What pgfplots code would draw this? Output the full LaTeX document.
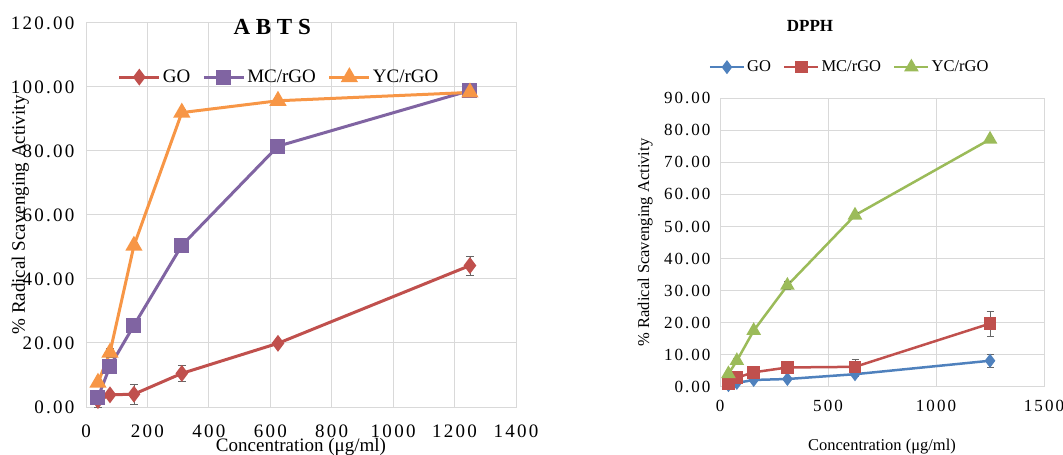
\documentclass[border=0pt]{standalone}
\usepackage{fontspec}
\setmainfont{Liberation Serif}
\newfontfamily\spaced[LetterSpace=12]{Liberation Serif}
\usepackage{pgfplots}
\pgfplotsset{compat=1.18}
\definecolor{cred}{HTML}{C0504D}
\definecolor{cpur}{HTML}{8064A2}
\definecolor{cora}{HTML}{F79646}
\definecolor{cblu}{HTML}{4F81BD}
\definecolor{cgre}{HTML}{9BBB59}
\definecolor{gridc}{HTML}{D9D9D9}
\begin{document}
\begin{tikzpicture}
\path[use as bounding box] (0pt,0pt) rectangle (1063pt,455pt);
\pgfplotsset{
  common/.style={
    scale only axis,
    axis line style={gridc, line width=1pt},
    grid=major,
    major grid style={gridc, line width=1pt},
    tick style={draw=none},
    /pgf/number format/assume math mode=true,
    /pgf/number format/set thousands separator={},
    every axis plot/.append style={error bars/error bar style={black!60, line width=0.8pt}},
  },
}
% ---------------- ABTS ----------------
\begin{axis}[common,
  at={(86pt,48pt)}, anchor=south west,
  width=430pt, height=384pt,
  xmin=0, xmax=1400, ymin=0, ymax=120,
  xtick={0,200,...,1400}, ytick={0,20,...,120},
  yticklabel={\pgfmathprintnumber[fixed,fixed zerofill,precision=2]{\tick}},
  ticklabel style={font=\fontsize{19}{19}\spaced},
  xticklabel style={yshift=-14pt},
  yticklabel style={xshift=-8pt},
  xlabel={Concentration (μg/ml)},
  ylabel={\% Radical Scavenging Activity},
  label style={font=\fontsize{19}{19}\selectfont},
  xlabel style={at={(axis description cs:0.5,-0.104)}, anchor=center},
  ylabel style={at={(axis description cs:-0.153,0.5)}, anchor=center, rotate=0},
  title={\textbf{A B T S}},
  title style={font=\fontsize{23}{23}\selectfont, at={(axis description cs:0.433,0.974)}, anchor=center},
  legend style={draw=none, fill=none, at={(axis description cs:0.449,0.859)}, anchor=center,
    font=\fontsize{19}{19}\selectfont, /tikz/every even column/.append style={column sep=10pt}},
  legend columns=-1,
  legend image code/.code={\draw[#1] (0pt,0pt) -- (40pt,0pt); \draw[#1, mark repeat=1] plot coordinates {(20pt,0pt)};},
]
\addplot[cred, line width=3pt, mark=diamond*, mark size=6pt, mark options={solid},
  error bars/.cd, y dir=both, y explicit, error mark options={rotate=90, mark size=4pt}]
  coordinates {(39,2.0)+-(0,2.0) (78,3.8)+-(0,0.6) (156,4.0)+-(0,3.0) (312,10.5)+-(0,2.5) (625,19.9)+-(0,0.6) (1250,44.2)+-(0,3.0)};
\addlegendentry{GO}
\addplot[cpur, line width=3pt, mark=square*, mark size=6pt,
  error bars/.cd, y dir=both, y explicit, error mark options={rotate=90, mark size=4pt}]
  coordinates {(39,3.0)+-(0,1.0) (78,12.7)+-(0,1.0) (156,25.5)+-(0,1.0) (312,50.5)+-(0,1.0) (625,81.5)+-(0,1.0) (1250,98.9)+-(0,0.6)};
\addlegendentry{MC/rGO}
\addplot[cora, line width=3pt, mark=triangle*, mark size=7pt,
  error bars/.cd, y dir=both, y explicit, error mark options={rotate=90, mark size=4pt}]
  coordinates {(39,7.6)+-(0,1.0) (78,17.0)+-(0,1.5) (156,50.4)+-(0,1.2) (312,92.0)+-(0,1.0) (625,95.7)+-(0,0.5) (1250,98.3)+-(0,0.5)};
\addlegendentry{YC/rGO}
\end{axis}
% ---------------- DPPH ----------------
\begin{axis}[common,
  at={(720pt,68.3pt)}, anchor=south west,
  width=324pt, height=288.4pt,
  xmin=0, xmax=1500, ymin=0, ymax=90,
  xtick={0,500,1000,1500}, ytick={0,10,...,90},
  yticklabel={\pgfmathprintnumber[fixed,fixed zerofill,precision=2]{\tick}},
  ticklabel style={font=\fontsize{17}{17}\spaced},
  xticklabel style={yshift=-10pt},
  yticklabel style={xshift=-6pt},
  xlabel={Concentration (μg/ml)},
  ylabel={\% Radical Scavenging Activity},
  label style={font=\fontsize{16.5}{16.5}\selectfont},
  xlabel style={at={(axis description cs:0.5,-0.206)}, anchor=center},
  ylabel style={at={(axis description cs:-0.231,0.5)}, anchor=center},
  title={\textbf{DPPH}},
  title style={font=\fontsize{17}{17}\selectfont, at={(axis description cs:0.278,1.23)}, anchor=center},
  legend style={draw=none, fill=none, at={(axis description cs:0.40,1.108)}, anchor=center,
    font=\fontsize{16.5}{16.5}\selectfont, /tikz/every even column/.append style={column sep=10pt}},
  legend columns=-1,
  legend image code/.code={\draw[#1] (0pt,0pt) -- (34pt,0pt); \draw[#1, mark repeat=1] plot coordinates {(17pt,0pt)};},
]
\addplot[cblu, line width=2.5pt, mark=diamond*, mark size=5pt,
  error bars/.cd, y dir=both, y explicit, error mark options={rotate=90, mark size=3.5pt}]
  coordinates {(39,0.5)+-(0,0.5) (78,1.2)+-(0,0.5) (156,2.1)+-(0,0.5) (312,2.4)+-(0,0.5) (625,3.9)+-(0,0.6) (1250,8.1)+-(0,2.0)};
\addlegendentry{GO}
\addplot[cred, line width=2.5pt, mark=square*, mark size=5pt,
  error bars/.cd, y dir=both, y explicit, error mark options={rotate=90, mark size=3.5pt}]
  coordinates {(39,0.8)+-(0,0.5) (78,2.8)+-(0,0.5) (156,4.5)+-(0,0.8) (312,6.0)+-(0,0.5) (625,6.2)+-(0,2.5) (1250,19.7)+-(0,3.8)};
\addlegendentry{MC/rGO}
\addplot[cgre, line width=2.5pt, mark=triangle*, mark size=6pt,
  error bars/.cd, y dir=both, y explicit, error mark options={rotate=90, mark size=3.5pt}]
  coordinates {(39,4.0)+-(0,0.8) (78,8.1)+-(0,0.8) (156,17.5)+-(0,0.8) (312,31.6)+-(0,1.2) (625,53.5)+-(0,1.0) (1250,77.2)+-(0,0.6)};
\addlegendentry{YC/rGO}
\end{axis}
\end{tikzpicture}
\end{document}
